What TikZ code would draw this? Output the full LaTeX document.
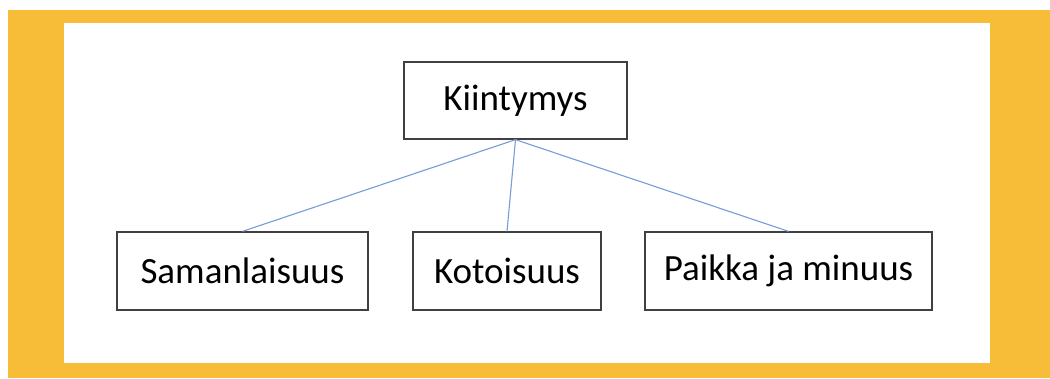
\documentclass[tikz,border=0pt]{standalone}
\usepackage{fontspec}
\setmainfont{Carlito}
\definecolor{frameyellow}{HTML}{F7BD38}
\definecolor{linkblue}{HTML}{7A9BD8}
\definecolor{boxgray}{HTML}{404040}
\tikzset{
  box/.style={draw=boxgray, line width=1.3pt, fill=white, rectangle, inner sep=0pt,
    minimum height=78pt, font=\fontsize{37}{44}\selectfont, text=black},
  link/.style={draw=linkblue, line width=1.1pt}
}
\begin{document}
\begin{tikzpicture}[x=1pt,y=-1pt]
\useasboundingbox (0,0) rectangle (1050,378);
\fill[frameyellow] (8,10) rectangle (1050,378);
\fill[white] (64,23) rectangle (990,363);
\node[box, minimum width=223pt, minimum height=77pt] (k) at (515.5,100.5) {Kiintymys};
\node[box, minimum width=251pt] (s) at (242.5,271) {Samanlaisuus};
\node[box, minimum width=188pt] (t) at (507,271) {Kotoisuus};
\node[box, minimum width=287pt] (p) at (788.5,271) {Paikka ja minuus};
\draw[link] (k.south) -- (s.north);
\draw[link] (k.south) -- (t.north);
\draw[link] (k.south) -- (p.north);
\end{tikzpicture}
\end{document}
